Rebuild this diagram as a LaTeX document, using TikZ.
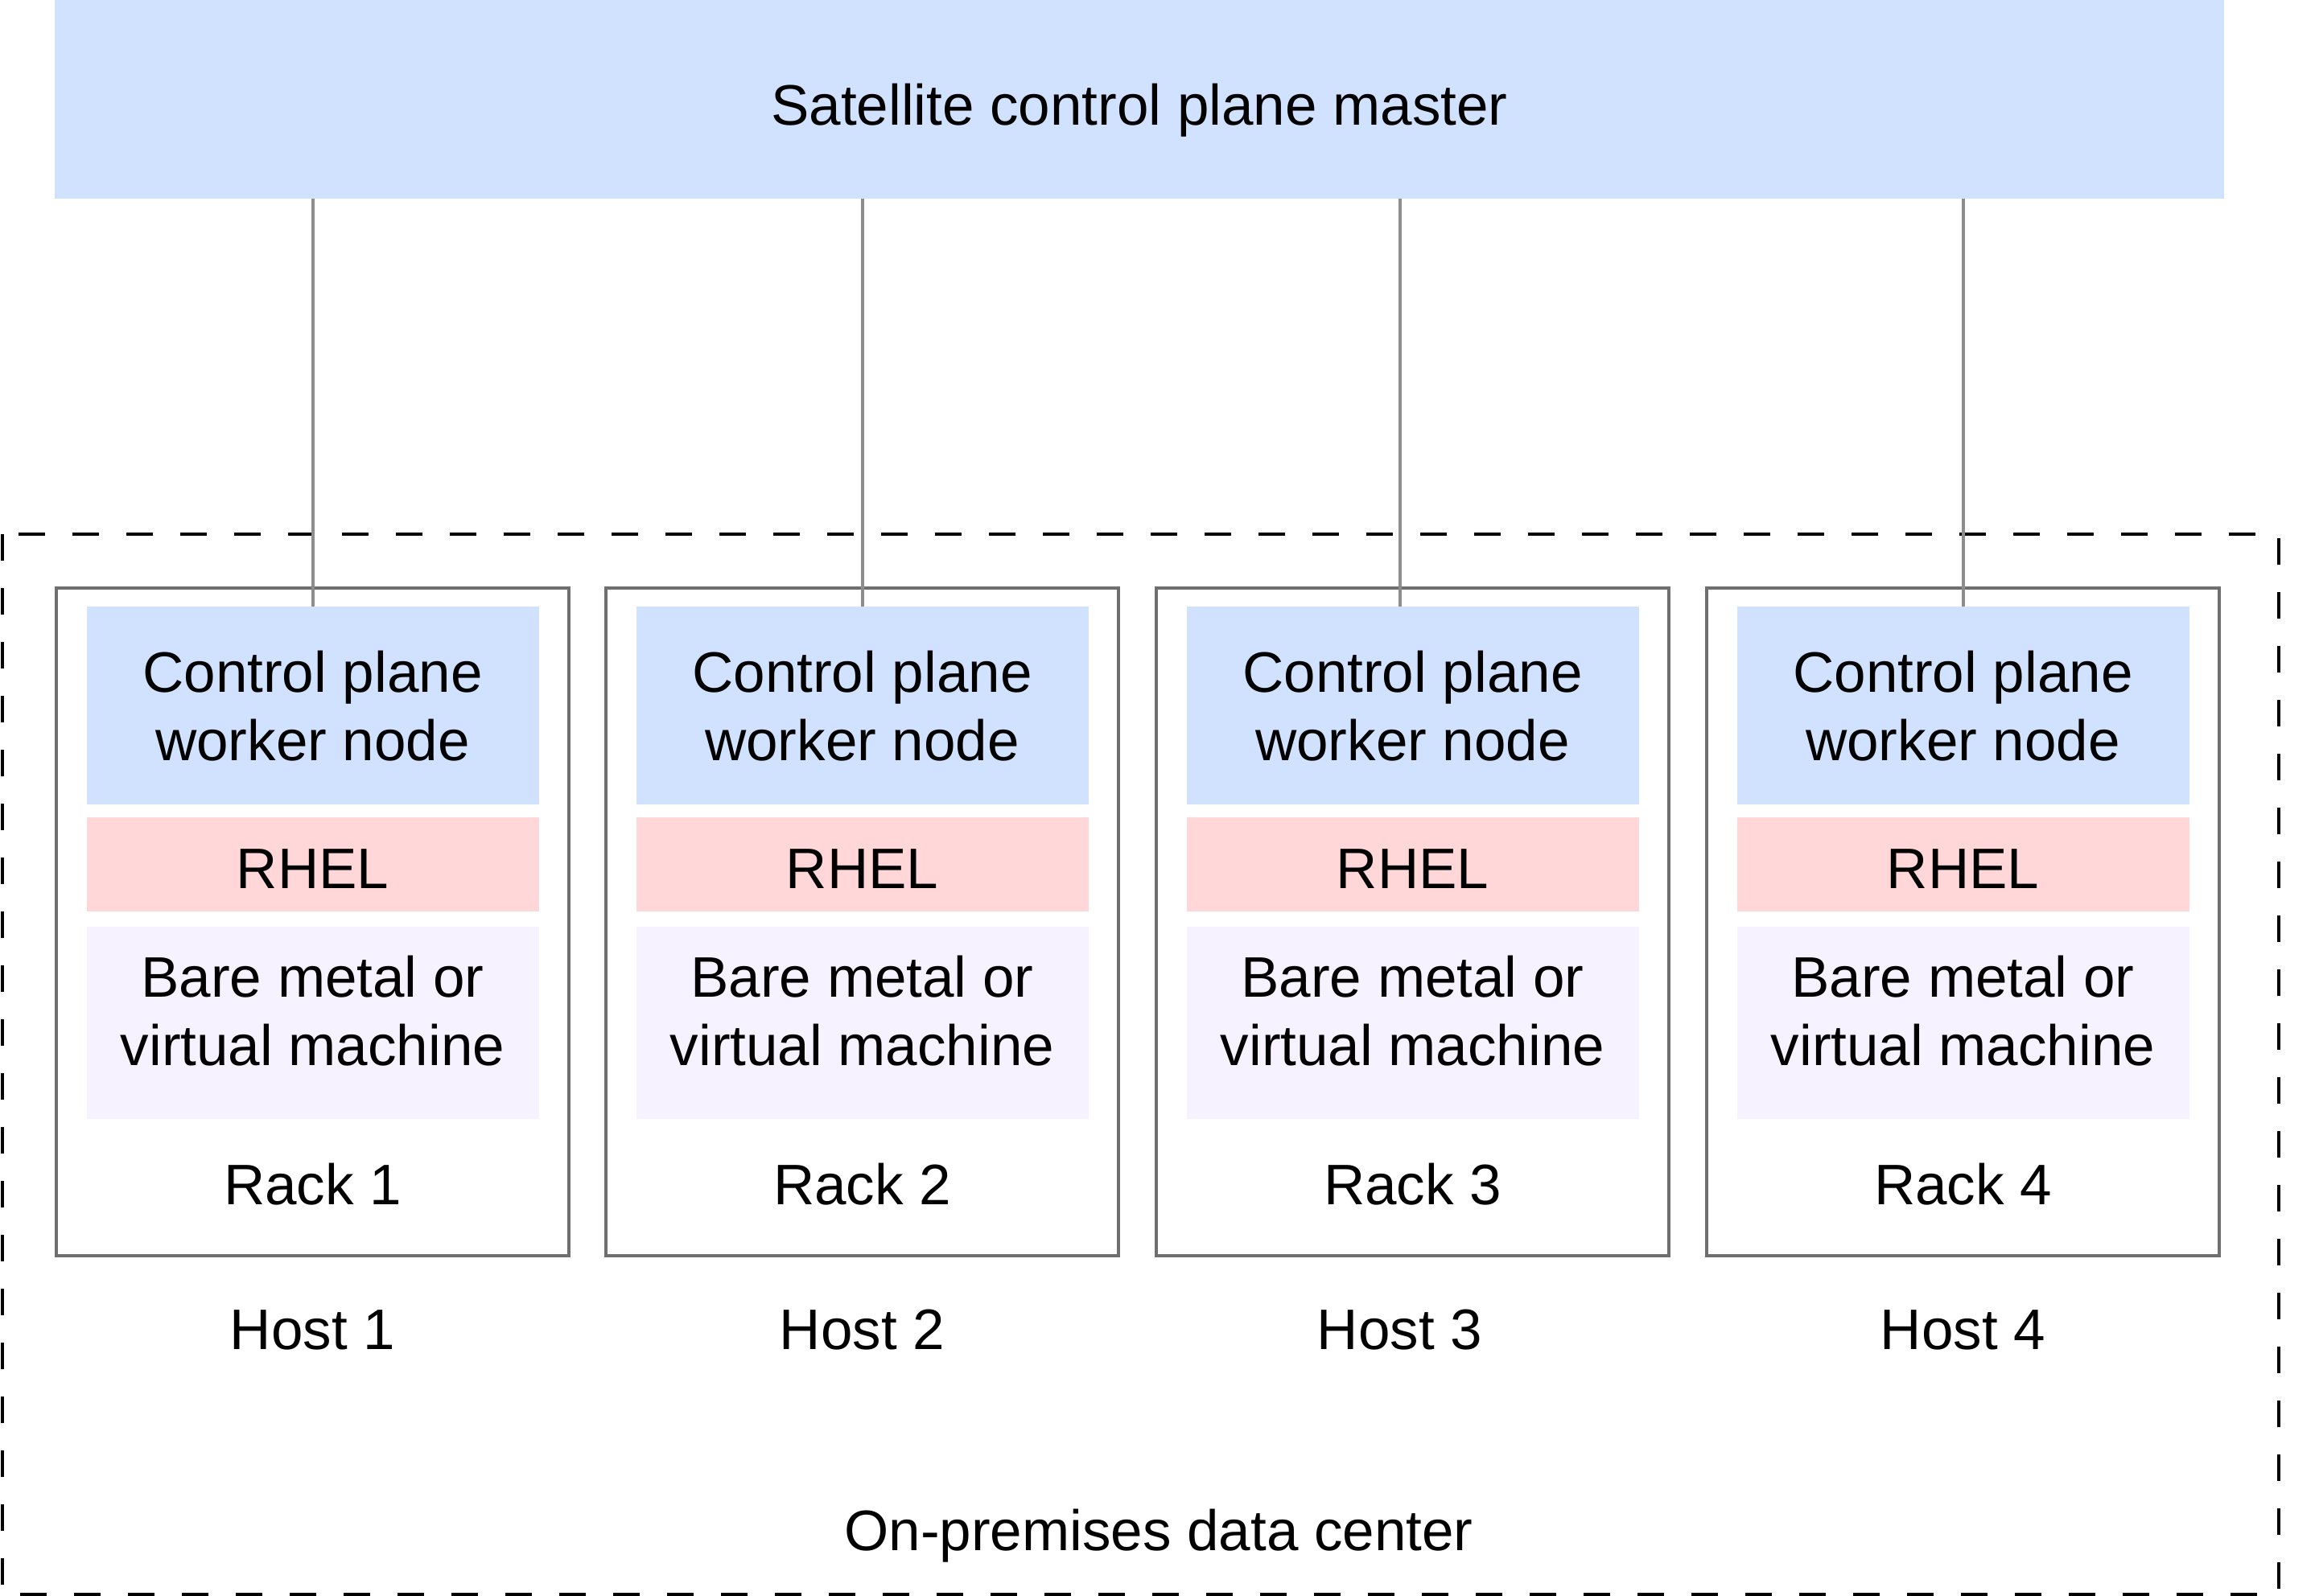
\documentclass[tikz,border=0pt]{standalone}
\usepackage{fontspec}
\setmainfont{Liberation Sans}
\usetikzlibrary{positioning}

\definecolor{blueten}{HTML}{D0E2FF}
\definecolor{redten}{HTML}{FFD7D9}
\definecolor{purpleten}{HTML}{F6F2FF}
\definecolor{rackgray}{HTML}{6F6F6F}
\definecolor{linkgray}{HTML}{8D8D8D}

\begin{document}
\begin{tikzpicture}[
  font=\fontsize{20.2}{24.2}\selectfont,
  every node/.style={inner sep=0pt, outer sep=0pt},
  layer/.style={minimum width=5.62cm, align=center, text depth=0cm},
  cpw/.style={layer, fill=blueten, minimum height=2.455cm, text height=1.36cm},
  rhel/.style={layer, fill=redten, minimum height=1.17cm, text height=0.59cm},
  bare/.style={layer, fill=purpleten, minimum height=2.39cm, text height=1.06cm},
  rack/.style={draw=rackgray, line width=0.04cm, minimum width=6.37cm, minimum height=8.30cm},
  link/.style={draw=linkgray, line width=0.04cm},
]
  \useasboundingbox (0,0) rectangle (28.77,-19.84);

  % master oben
  \node[fill=blueten, minimum width=26.96cm, minimum height=2.47cm,
        text height=0.65cm, text depth=0cm] (master) at (14.16,-1.235)
        {Satellite control plane master};

  % Rechenzentrum (gestrichelt)
  \draw[dash pattern=on 0.33cm off 0.34cm, line width=0.04cm]
    (0.03,-6.64) rectangle (28.32,-19.82);
  \node[anchor=base] (dc) at (14.40,-19.27) {On-premises data center};

  % vier Racks, Host 3 etwas nach links versetzt
  \foreach \i/\x/\dx in {1/3.885/0, 2/10.715/0, 3/17.555/-0.16, 4/24.395/0} {
    \node[rack] (rack\i) at (\x,-11.46) {};
    \node[cpw, below=0.235cm of rack\i.north] (cpw\i) {Control plane\\worker node};
    \node[rhel, below=0.16cm of cpw\i] (rhel\i) {RHEL};
    \node[bare, below=0.19cm of rhel\i] (bare\i) {Bare metal or\\virtual machine};
    \node[anchor=base] (rl\i) at ([yshift=0.64cm]rack\i.south) {Rack \i};
    \node[anchor=base] (host\i) at ([xshift=\dx cm, yshift=-1.16cm]rack\i.south) {Host \i};
    % Verbindung zum master
    \draw[link] ([xshift=\dx cm]cpw\i.north) -- ([xshift=\dx cm]cpw\i.north |- master.south);
  }
\end{tikzpicture}
\end{document}
